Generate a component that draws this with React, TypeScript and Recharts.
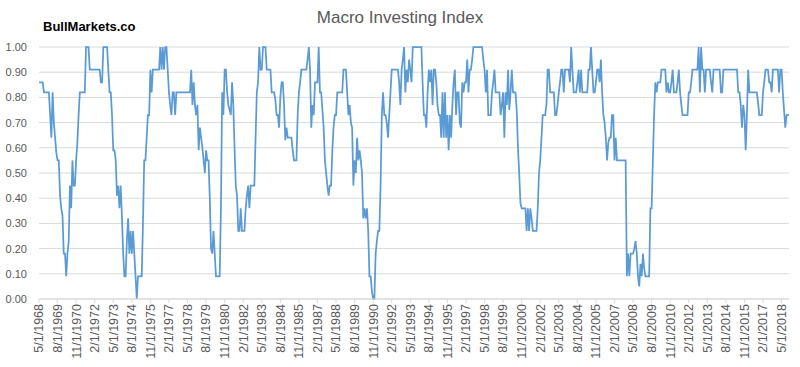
import { LineChart, Line, XAxis, YAxis, CartesianGrid } from 'recharts';

// monthly readings, first month is 5/1968
const startYear = 1968;
const startMonth = 5;

const index1968to1978 = [
  0.86, 0.86, 0.86, 0.86, 0.82, 0.82, 0.82, 0.82, 0.82, 0.73,
  0.64, 0.82, 0.70, 0.64, 0.58, 0.55, 0.55, 0.41, 0.36, 0.33,
  0.18, 0.18, 0.09, 0.18, 0.23, 0.45, 0.36, 0.55, 0.45, 0.45,
  0.55, 0.62, 0.73, 0.82, 0.82, 0.82, 0.82, 0.82, 1.00, 1.00,
  1.00, 0.91, 0.91, 0.91, 0.91, 0.91, 0.91, 0.91, 0.91, 0.91,
  0.86, 0.86, 1.00, 1.00, 1.00, 1.00, 0.91, 0.82, 0.82, 0.73,
  0.59, 0.59, 0.55, 0.41, 0.45, 0.36, 0.45, 0.33, 0.18, 0.09,
  0.09, 0.23, 0.32, 0.18, 0.27, 0.18, 0.27, 0.18, 0.09, 0.00,
  0.09, 0.09, 0.09, 0.09, 0.30, 0.55, 0.55, 0.64, 0.73, 0.73,
  0.91, 0.82, 0.91, 0.91, 0.91, 0.91, 0.91, 0.91, 1.00, 0.91,
  1.00, 0.91, 1.00, 1.00, 0.91, 0.82, 0.77, 0.73, 0.82, 0.82,
  0.73, 0.82, 0.82, 0.82, 0.82, 0.82, 0.82, 0.82, 0.82, 0.82,
];

const index1978to1988 = [
  0.82, 0.82, 0.82, 0.91, 0.77, 0.86, 0.77, 0.73, 0.77, 0.59,
  0.68, 0.64, 0.60, 0.55, 0.50, 0.59, 0.55, 0.55, 0.40, 0.20,
  0.18, 0.27, 0.18, 0.09, 0.09, 0.09, 0.09, 0.36, 0.82, 0.73,
  0.91, 0.91, 0.82, 0.77, 0.75, 0.73, 0.86, 0.77, 0.60, 0.45,
  0.41, 0.27, 0.27, 0.36, 0.27, 0.27, 0.27, 0.36, 0.41, 0.45,
  0.36, 0.45, 0.45, 0.45, 0.45, 0.64, 0.82, 0.86, 1.00, 0.91,
  0.91, 1.00, 1.00, 1.00, 0.91, 0.91, 0.91, 0.91, 0.82, 0.82,
  0.82, 0.79, 0.73, 0.73, 0.68, 0.80, 0.86, 0.86, 0.77, 0.63,
  0.68, 0.64, 0.64, 0.64, 0.64, 0.59, 0.55, 0.55, 0.55, 0.73,
  0.82, 0.86, 0.91, 0.91, 0.91, 0.91, 0.91, 0.95, 1.00, 0.91,
  0.68, 0.77, 0.73, 0.86, 0.86, 0.86, 1.00, 0.82, 0.82, 0.75,
  0.68, 0.55, 0.50, 0.45, 0.41, 0.45, 0.45, 0.59, 0.68, 0.73,
];

const index1988to1998 = [
  0.73, 0.82, 0.82, 0.82, 0.82, 0.82, 0.91, 0.91, 0.91, 0.82,
  0.73, 0.77, 0.70, 0.68, 0.45, 0.55, 0.50, 0.64, 0.55, 0.59,
  0.55, 0.50, 0.32, 0.36, 0.32, 0.36, 0.27, 0.09, 0.09, 0.03,
  0.00, 0.00, 0.18, 0.23, 0.27, 0.27, 0.45, 0.73, 0.82, 0.73,
  0.73, 0.70, 0.64, 0.73, 0.82, 0.91, 0.91, 0.91, 0.91, 0.91,
  0.91, 0.86, 0.77, 0.91, 0.95, 1.00, 0.82, 0.91, 0.86, 0.95,
  0.91, 0.86, 1.00, 1.00, 1.00, 1.00, 1.00, 1.00, 1.00, 1.00,
  0.85, 0.73, 0.73, 0.68, 0.82, 0.91, 0.86, 0.91, 0.77, 0.91,
  0.91, 0.86, 0.77, 0.73, 0.73, 0.64, 0.82, 0.64, 0.82, 0.64,
  0.73, 0.59, 0.73, 0.64, 0.77, 0.86, 0.91, 0.73, 0.82, 0.82,
  0.70, 0.68, 0.86, 0.82, 0.86, 0.86, 0.95, 0.82, 0.91, 0.91,
  0.95, 1.00, 1.00, 1.00, 1.00, 1.00, 1.00, 1.00, 1.00, 0.95,
];

const index1998to2008 = [
  0.91, 0.82, 0.91, 0.73, 0.73, 0.73, 0.82, 0.86, 0.91, 0.82,
  0.82, 0.82, 0.82, 0.73, 0.77, 0.82, 0.64, 0.82, 0.77, 0.91,
  0.75, 0.82, 0.91, 0.82, 0.82, 0.82, 0.75, 0.60, 0.50, 0.38,
  0.36, 0.36, 0.36, 0.36, 0.27, 0.36, 0.27, 0.36, 0.32, 0.27,
  0.27, 0.27, 0.27, 0.36, 0.50, 0.55, 0.64, 0.73, 0.73, 0.73,
  0.77, 0.91, 0.91, 0.82, 0.82, 0.82, 0.82, 0.73, 0.73, 0.77,
  0.82, 0.86, 0.91, 0.91, 0.82, 0.91, 0.91, 0.91, 0.91, 0.86,
  1.00, 0.91, 0.82, 0.82, 0.82, 0.86, 0.91, 0.82, 0.91, 0.82,
  0.82, 0.82, 0.82, 0.82, 0.91, 0.91, 1.00, 0.91, 0.82, 0.82,
  0.86, 0.91, 0.91, 0.86, 0.95, 0.82, 0.73, 0.70, 0.64, 0.55,
  0.62, 0.64, 0.64, 0.73, 0.73, 0.55, 0.64, 0.55, 0.55, 0.55,
  0.55, 0.55, 0.55, 0.55, 0.55, 0.09, 0.18, 0.09, 0.18, 0.18,
];

const index2008to2018 = [
  0.18, 0.20, 0.23, 0.18, 0.09, 0.05, 0.14, 0.09, 0.18, 0.12,
  0.09, 0.09, 0.09, 0.09, 0.36, 0.36, 0.55, 0.73, 0.86, 0.82,
  0.86, 0.86, 0.86, 0.91, 0.91, 0.91, 0.91, 0.82, 0.86, 0.82,
  0.82, 0.86, 0.91, 0.82, 0.82, 0.82, 0.86, 0.91, 0.82, 0.77,
  0.73, 0.73, 0.73, 0.73, 0.73, 0.82, 0.82, 0.86, 0.91, 0.91,
  0.91, 0.91, 0.91, 1.00, 0.82, 1.00, 0.91, 0.91, 0.82, 0.91,
  0.91, 0.91, 0.91, 0.86, 0.82, 0.91, 0.91, 0.91, 0.91, 0.91,
  0.91, 0.82, 0.82, 0.91, 0.91, 0.91, 0.91, 0.91, 0.91, 0.91,
  0.91, 0.91, 0.91, 0.91, 0.91, 0.82, 0.82, 0.77, 0.68, 0.77,
  0.73, 0.59, 0.73, 0.91, 0.82, 0.82, 0.82, 0.82, 0.82, 0.82,
  0.82, 0.78, 0.73, 0.73, 0.73, 0.82, 0.86, 0.91, 0.91, 0.91,
  0.86, 0.86, 0.82, 0.91, 0.91, 0.91, 0.91, 0.91, 0.82, 0.91,
  0.91, 0.82, 0.75, 0.68, 0.73, 0.73, 0.73,
];

const yTicks = [0, 0.1, 0.2, 0.3, 0.4, 0.5, 0.6, 0.7, 0.8, 0.9, 1];

const values = [
  ...index1968to1978,
  ...index1978to1988,
  ...index1988to1998,
  ...index1998to2008,
  ...index2008to2018,
];

const data = values.map((v, i) => {
  const t = startMonth - 1 + i;
  return { date: `${(t % 12) + 1}/1/${startYear + Math.floor(t / 12)}`, value: v };
});

const font = '"Liberation Sans", Arial, sans-serif';

function DateTick({ x, y, payload }: any) {
  return (
    <text
      x={x}
      y={y}
      transform={`rotate(-90, ${x}, ${y})`}
      textAnchor="end"
      dy="0.35em"
      fill="#595959"
      fontSize={12.5}
      fontFamily={font}
    >
      {payload.value}
    </text>
  );
}

export default function App() {
  return (
    <div style={{ position: 'relative', width: 800, height: 367, background: '#fff', fontFamily: font }}>
      <style>{'body { margin: 0; }'}</style>
      <div style={{ position: 'absolute', left: 0, width: 800, top: 8, textAlign: 'center', fontSize: 17, color: '#595959' }}>
        Macro Investing Index
      </div>
      <div style={{ position: 'absolute', left: 43, top: 19, fontSize: 13, fontWeight: 'bold', color: '#000' }}>
        BullMarkets.co
      </div>
      <LineChart width={800} height={367} data={data} margin={{ top: 47, right: 11, bottom: 0, left: 0 }}>
        <CartesianGrid vertical={false} stroke="#d9d9d9" />
        <XAxis
          dataKey="date"
          interval={14}
          height={68}
          stroke="#d9d9d9"
          tickSize={4}
          tickMargin={1}
          tick={<DateTick />}
        />
        <YAxis
          width={39}
          domain={[0, 1]}
          ticks={yTicks}
          tickFormatter={(v: number) => v.toFixed(2)}
          axisLine={false}
          tickLine={false}
          tickMargin={6}
          tick={{ fill: '#595959', fontSize: 11, fontFamily: font }}
        />
        <Line
          type="linear"
          dataKey="value"
          stroke="#5b9bd5"
          strokeWidth={1.75}
          dot={false}
          isAnimationActive={false}
        />
      </LineChart>
    </div>
  );
}
